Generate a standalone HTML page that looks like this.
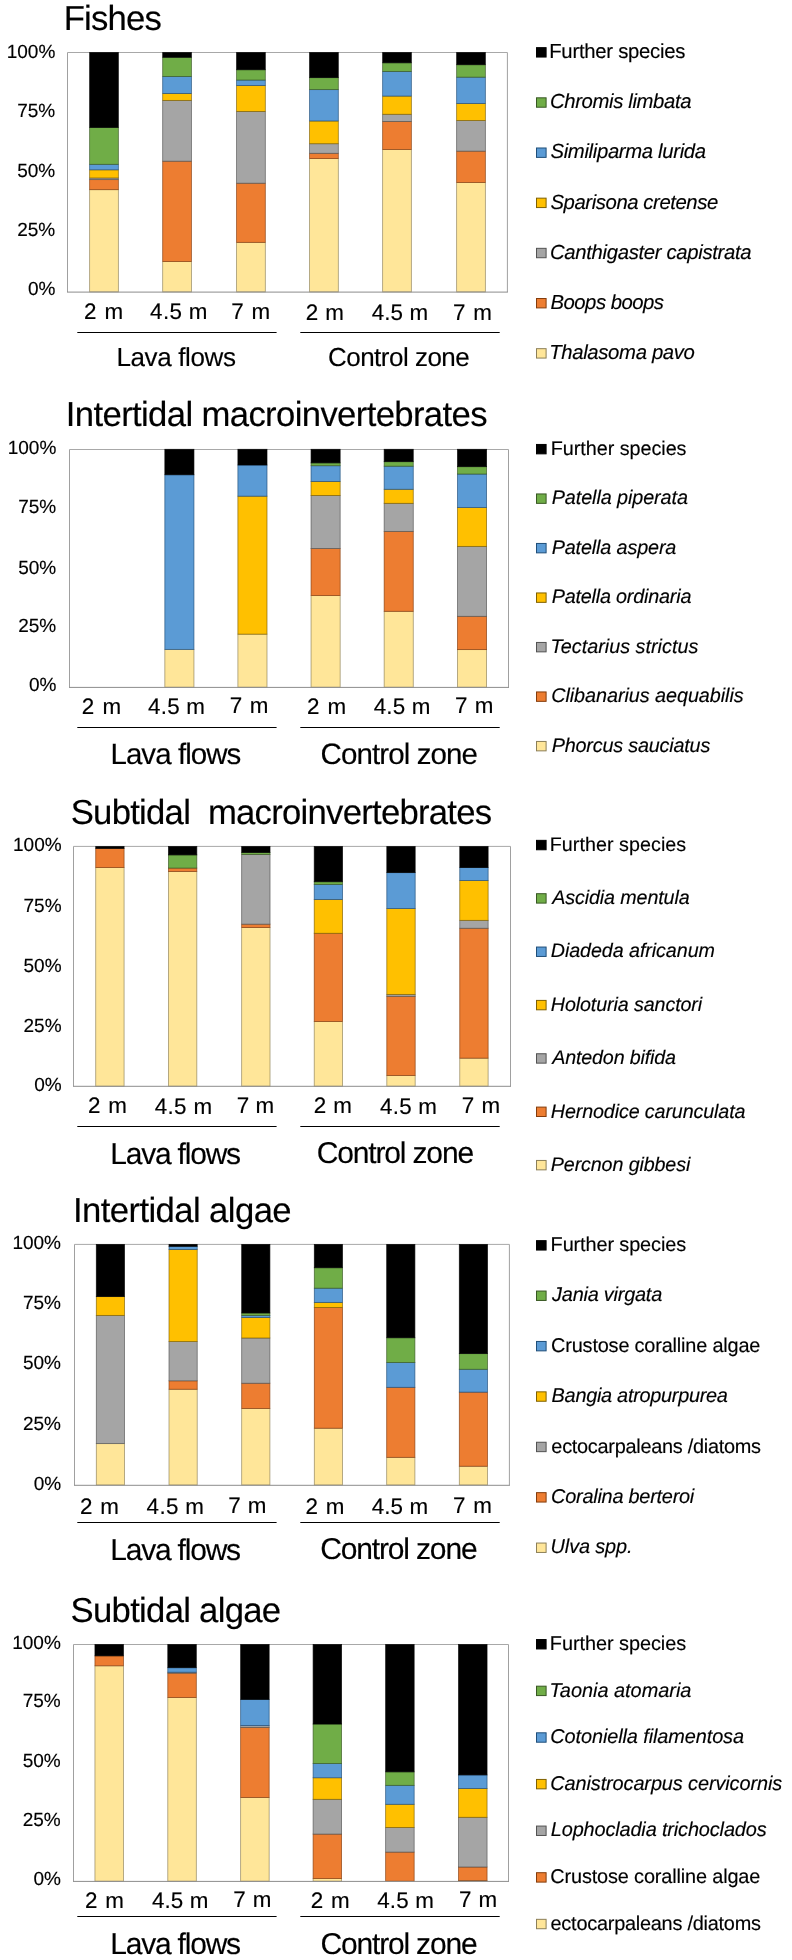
<!DOCTYPE html>
<html><head><meta charset="utf-8"><style>
html,body{margin:0;padding:0;background:#fff;}
svg{display:block;will-change:transform;}
text{font-family:"Liberation Sans", sans-serif; fill:#000; stroke:#000; stroke-width:0.15px; text-rendering:geometricPrecision;}
</style></head><body>
<svg width="792" height="1960" viewBox="0 0 792 1960">
<rect width="792" height="1960" fill="#fff"/>
<text x="63.65" y="29.90" font-size="34.7" textLength="98.16" lengthAdjust="spacing">Fishes</text>
<line x1="67.5" y1="52.5" x2="507.4" y2="52.5" stroke="#a8a8a8" stroke-width="1"/>
<line x1="67.5" y1="52.5" x2="67.5" y2="292.1" stroke="#a0a0a0" stroke-width="1"/>
<line x1="507.4" y1="52.5" x2="507.4" y2="292.1" stroke="#a0a0a0" stroke-width="1"/>
<rect x="89.65" y="189.68" width="28.70" height="102.22" fill="#FFE699" stroke="#8c7f58" stroke-opacity="0.8" stroke-width="0.8"/>
<rect x="89.65" y="179.62" width="28.70" height="10.05" fill="#ED7D31" stroke="#843C0C" stroke-opacity="0.8" stroke-width="0.8"/>
<rect x="89.65" y="177.95" width="28.70" height="1.68" fill="#A5A5A5" stroke="#525252" stroke-opacity="0.8" stroke-width="0.8"/>
<rect x="89.65" y="169.81" width="28.70" height="8.14" fill="#FFC000" stroke="#7F6000" stroke-opacity="0.8" stroke-width="0.8"/>
<rect x="89.65" y="164.30" width="28.70" height="5.51" fill="#5B9BD5" stroke="#1F4E79" stroke-opacity="0.8" stroke-width="0.8"/>
<rect x="89.65" y="127.43" width="28.70" height="36.87" fill="#70AD47" stroke="#385723" stroke-opacity="0.8" stroke-width="0.8"/>
<rect x="89.65" y="52.50" width="28.70" height="74.93" fill="#000000" stroke="#000000" stroke-opacity="0.8" stroke-width="0.8"/>
<rect x="162.70" y="261.50" width="28.70" height="30.40" fill="#FFE699" stroke="#8c7f58" stroke-opacity="0.8" stroke-width="0.8"/>
<rect x="162.70" y="161.19" width="28.70" height="100.31" fill="#ED7D31" stroke="#843C0C" stroke-opacity="0.8" stroke-width="0.8"/>
<rect x="162.70" y="100.38" width="28.70" height="60.81" fill="#A5A5A5" stroke="#525252" stroke-opacity="0.8" stroke-width="0.8"/>
<rect x="162.70" y="93.44" width="28.70" height="6.94" fill="#FFC000" stroke="#7F6000" stroke-opacity="0.8" stroke-width="0.8"/>
<rect x="162.70" y="76.44" width="28.70" height="17.00" fill="#5B9BD5" stroke="#1F4E79" stroke-opacity="0.8" stroke-width="0.8"/>
<rect x="162.70" y="57.29" width="28.70" height="19.15" fill="#70AD47" stroke="#385723" stroke-opacity="0.8" stroke-width="0.8"/>
<rect x="162.70" y="52.50" width="28.70" height="4.79" fill="#000000" stroke="#000000" stroke-opacity="0.8" stroke-width="0.8"/>
<rect x="236.60" y="242.34" width="28.70" height="49.56" fill="#FFE699" stroke="#8c7f58" stroke-opacity="0.8" stroke-width="0.8"/>
<rect x="236.60" y="183.21" width="28.70" height="59.13" fill="#ED7D31" stroke="#843C0C" stroke-opacity="0.8" stroke-width="0.8"/>
<rect x="236.60" y="111.39" width="28.70" height="71.82" fill="#A5A5A5" stroke="#525252" stroke-opacity="0.8" stroke-width="0.8"/>
<rect x="236.60" y="85.54" width="28.70" height="25.86" fill="#FFC000" stroke="#7F6000" stroke-opacity="0.8" stroke-width="0.8"/>
<rect x="236.60" y="80.03" width="28.70" height="5.51" fill="#5B9BD5" stroke="#1F4E79" stroke-opacity="0.8" stroke-width="0.8"/>
<rect x="236.60" y="69.74" width="28.70" height="10.29" fill="#70AD47" stroke="#385723" stroke-opacity="0.8" stroke-width="0.8"/>
<rect x="236.60" y="52.50" width="28.70" height="17.24" fill="#000000" stroke="#000000" stroke-opacity="0.8" stroke-width="0.8"/>
<rect x="309.60" y="158.55" width="28.70" height="133.35" fill="#FFE699" stroke="#8c7f58" stroke-opacity="0.8" stroke-width="0.8"/>
<rect x="309.60" y="153.29" width="28.70" height="5.27" fill="#ED7D31" stroke="#843C0C" stroke-opacity="0.8" stroke-width="0.8"/>
<rect x="309.60" y="143.71" width="28.70" height="9.58" fill="#A5A5A5" stroke="#525252" stroke-opacity="0.8" stroke-width="0.8"/>
<rect x="309.60" y="120.97" width="28.70" height="22.74" fill="#FFC000" stroke="#7F6000" stroke-opacity="0.8" stroke-width="0.8"/>
<rect x="309.60" y="89.61" width="28.70" height="31.36" fill="#5B9BD5" stroke="#1F4E79" stroke-opacity="0.8" stroke-width="0.8"/>
<rect x="309.60" y="77.64" width="28.70" height="11.97" fill="#70AD47" stroke="#385723" stroke-opacity="0.8" stroke-width="0.8"/>
<rect x="309.60" y="52.50" width="28.70" height="25.14" fill="#000000" stroke="#000000" stroke-opacity="0.8" stroke-width="0.8"/>
<rect x="382.65" y="149.46" width="28.70" height="142.44" fill="#FFE699" stroke="#8c7f58" stroke-opacity="0.8" stroke-width="0.8"/>
<rect x="382.65" y="121.45" width="28.70" height="28.01" fill="#ED7D31" stroke="#843C0C" stroke-opacity="0.8" stroke-width="0.8"/>
<rect x="382.65" y="114.27" width="28.70" height="7.18" fill="#A5A5A5" stroke="#525252" stroke-opacity="0.8" stroke-width="0.8"/>
<rect x="382.65" y="96.07" width="28.70" height="18.19" fill="#FFC000" stroke="#7F6000" stroke-opacity="0.8" stroke-width="0.8"/>
<rect x="382.65" y="71.41" width="28.70" height="24.66" fill="#5B9BD5" stroke="#1F4E79" stroke-opacity="0.8" stroke-width="0.8"/>
<rect x="382.65" y="62.79" width="28.70" height="8.62" fill="#70AD47" stroke="#385723" stroke-opacity="0.8" stroke-width="0.8"/>
<rect x="382.65" y="52.50" width="28.70" height="10.29" fill="#000000" stroke="#000000" stroke-opacity="0.8" stroke-width="0.8"/>
<rect x="456.65" y="182.49" width="28.70" height="109.41" fill="#FFE699" stroke="#8c7f58" stroke-opacity="0.8" stroke-width="0.8"/>
<rect x="456.65" y="151.13" width="28.70" height="31.36" fill="#ED7D31" stroke="#843C0C" stroke-opacity="0.8" stroke-width="0.8"/>
<rect x="456.65" y="120.49" width="28.70" height="30.64" fill="#A5A5A5" stroke="#525252" stroke-opacity="0.8" stroke-width="0.8"/>
<rect x="456.65" y="103.49" width="28.70" height="17.00" fill="#FFC000" stroke="#7F6000" stroke-opacity="0.8" stroke-width="0.8"/>
<rect x="456.65" y="77.16" width="28.70" height="26.33" fill="#5B9BD5" stroke="#1F4E79" stroke-opacity="0.8" stroke-width="0.8"/>
<rect x="456.65" y="64.71" width="28.70" height="12.45" fill="#70AD47" stroke="#385723" stroke-opacity="0.8" stroke-width="0.8"/>
<rect x="456.65" y="52.50" width="28.70" height="12.21" fill="#000000" stroke="#000000" stroke-opacity="0.8" stroke-width="0.8"/>
<line x1="67.0" y1="292.1" x2="507.9" y2="292.1" stroke="#8c8c8c" stroke-width="1"/>
<text x="6.70" y="57.90" font-size="19.0">100%</text>
<text x="17.20" y="117.00" font-size="19.0">75%</text>
<text x="17.20" y="176.90" font-size="19.0">50%</text>
<text x="17.20" y="236.10" font-size="19.0">25%</text>
<text x="27.95" y="295.40" font-size="19.0">0%</text>
<text x="84.10" y="319.00" font-size="22.4" textLength="39.09" lengthAdjust="spacing">2 m</text>
<text x="150.10" y="319.00" font-size="22.4" textLength="57.35" lengthAdjust="spacing">4.5 m</text>
<text x="231.20" y="319.00" font-size="22.4" textLength="38.89" lengthAdjust="spacing">7 m</text>
<text x="305.70" y="320.00" font-size="22.4" textLength="38.19" lengthAdjust="spacing">2 m</text>
<text x="371.70" y="320.00" font-size="22.4" textLength="56.45" lengthAdjust="spacing">4.5 m</text>
<text x="453.10" y="320.00" font-size="22.4" textLength="38.89" lengthAdjust="spacing">7 m</text>
<line x1="77.3" y1="332.5" x2="276.6" y2="332.5" stroke="#000" stroke-width="1"/>
<line x1="300.3" y1="332.5" x2="499.7" y2="332.5" stroke="#000" stroke-width="1"/>
<text x="116.40" y="365.90" font-size="26.0" textLength="119.49" lengthAdjust="spacing">Lava flows</text>
<text x="327.95" y="365.90" font-size="26.0" textLength="141.83" lengthAdjust="spacing">Control zone</text>
<rect x="536.5" y="47.65" width="9.6" height="9.4" fill="#000000" stroke="#000000" stroke-width="1"/>
<text x="549.25" y="58.05" font-size="20.3" textLength="136.10" lengthAdjust="spacing">Further species</text>
<rect x="536.5" y="97.82" width="9.6" height="9.4" fill="#70AD47" stroke="#385723" stroke-width="1"/>
<text x="550.00" y="108.22" font-size="20.3" font-style="italic" textLength="141.49" lengthAdjust="spacing">Chromis limbata</text>
<rect x="536.5" y="147.99" width="9.6" height="9.4" fill="#5B9BD5" stroke="#1F4E79" stroke-width="1"/>
<text x="550.50" y="158.39" font-size="20.3" font-style="italic" textLength="155.57" lengthAdjust="spacing">Similiparma lurida</text>
<rect x="536.5" y="198.16" width="9.6" height="9.4" fill="#FFC000" stroke="#7F6000" stroke-width="1"/>
<text x="550.50" y="208.56" font-size="20.3" font-style="italic" textLength="167.72" lengthAdjust="spacing">Sparisona cretense</text>
<rect x="536.5" y="248.33" width="9.6" height="9.4" fill="#A5A5A5" stroke="#525252" stroke-width="1"/>
<text x="550.00" y="258.73" font-size="20.3" font-style="italic" textLength="201.53" lengthAdjust="spacing">Canthigaster capistrata</text>
<rect x="536.5" y="298.50" width="9.6" height="9.4" fill="#ED7D31" stroke="#843C0C" stroke-width="1"/>
<text x="550.50" y="308.90" font-size="20.3" font-style="italic" textLength="113.46" lengthAdjust="spacing">Boops boops</text>
<rect x="536.5" y="348.67" width="9.6" height="9.4" fill="#FFE699" stroke="#8c7f58" stroke-width="1"/>
<text x="549.25" y="359.07" font-size="20.3" font-style="italic" textLength="145.61" lengthAdjust="spacing">Thalasoma pavo</text>
<text x="65.85" y="426.00" font-size="34.7" textLength="421.65" lengthAdjust="spacing">Intertidal macroinvertebrates</text>
<line x1="69.5" y1="449.5" x2="508.5" y2="449.5" stroke="#a8a8a8" stroke-width="1"/>
<line x1="69.5" y1="449.5" x2="69.5" y2="687.4" stroke="#a0a0a0" stroke-width="1"/>
<line x1="508.5" y1="449.5" x2="508.5" y2="687.4" stroke="#a0a0a0" stroke-width="1"/>
<rect x="164.85" y="649.37" width="29.10" height="37.83" fill="#FFE699" stroke="#8c7f58" stroke-opacity="0.8" stroke-width="0.8"/>
<rect x="164.85" y="474.76" width="29.10" height="174.62" fill="#5B9BD5" stroke="#1F4E79" stroke-opacity="0.8" stroke-width="0.8"/>
<rect x="164.85" y="449.30" width="29.10" height="25.46" fill="#000000" stroke="#000000" stroke-opacity="0.8" stroke-width="0.8"/>
<rect x="237.90" y="634.15" width="29.10" height="53.05" fill="#FFE699" stroke="#8c7f58" stroke-opacity="0.8" stroke-width="0.8"/>
<rect x="237.90" y="496.17" width="29.10" height="137.98" fill="#FFC000" stroke="#7F6000" stroke-opacity="0.8" stroke-width="0.8"/>
<rect x="237.90" y="465.00" width="29.10" height="31.16" fill="#5B9BD5" stroke="#1F4E79" stroke-opacity="0.8" stroke-width="0.8"/>
<rect x="237.90" y="449.30" width="29.10" height="15.70" fill="#000000" stroke="#000000" stroke-opacity="0.8" stroke-width="0.8"/>
<rect x="311.05" y="595.61" width="29.10" height="91.59" fill="#FFE699" stroke="#8c7f58" stroke-opacity="0.8" stroke-width="0.8"/>
<rect x="311.05" y="548.50" width="29.10" height="47.10" fill="#ED7D31" stroke="#843C0C" stroke-opacity="0.8" stroke-width="0.8"/>
<rect x="311.05" y="495.45" width="29.10" height="53.05" fill="#A5A5A5" stroke="#525252" stroke-opacity="0.8" stroke-width="0.8"/>
<rect x="311.05" y="481.42" width="29.10" height="14.04" fill="#FFC000" stroke="#7F6000" stroke-opacity="0.8" stroke-width="0.8"/>
<rect x="311.05" y="465.72" width="29.10" height="15.70" fill="#5B9BD5" stroke="#1F4E79" stroke-opacity="0.8" stroke-width="0.8"/>
<rect x="311.05" y="462.86" width="29.10" height="2.85" fill="#70AD47" stroke="#385723" stroke-opacity="0.8" stroke-width="0.8"/>
<rect x="311.05" y="449.30" width="29.10" height="13.56" fill="#000000" stroke="#000000" stroke-opacity="0.8" stroke-width="0.8"/>
<rect x="384.15" y="611.31" width="29.10" height="75.89" fill="#FFE699" stroke="#8c7f58" stroke-opacity="0.8" stroke-width="0.8"/>
<rect x="384.15" y="531.38" width="29.10" height="79.93" fill="#ED7D31" stroke="#843C0C" stroke-opacity="0.8" stroke-width="0.8"/>
<rect x="384.15" y="503.30" width="29.10" height="28.07" fill="#A5A5A5" stroke="#525252" stroke-opacity="0.8" stroke-width="0.8"/>
<rect x="384.15" y="489.27" width="29.10" height="14.04" fill="#FFC000" stroke="#7F6000" stroke-opacity="0.8" stroke-width="0.8"/>
<rect x="384.15" y="466.19" width="29.10" height="23.08" fill="#5B9BD5" stroke="#1F4E79" stroke-opacity="0.8" stroke-width="0.8"/>
<rect x="384.15" y="461.67" width="29.10" height="4.52" fill="#70AD47" stroke="#385723" stroke-opacity="0.8" stroke-width="0.8"/>
<rect x="384.15" y="449.30" width="29.10" height="12.37" fill="#000000" stroke="#000000" stroke-opacity="0.8" stroke-width="0.8"/>
<rect x="457.50" y="649.61" width="29.10" height="37.59" fill="#FFE699" stroke="#8c7f58" stroke-opacity="0.8" stroke-width="0.8"/>
<rect x="457.50" y="616.31" width="29.10" height="33.31" fill="#ED7D31" stroke="#843C0C" stroke-opacity="0.8" stroke-width="0.8"/>
<rect x="457.50" y="546.36" width="29.10" height="69.94" fill="#A5A5A5" stroke="#525252" stroke-opacity="0.8" stroke-width="0.8"/>
<rect x="457.50" y="507.59" width="29.10" height="38.78" fill="#FFC000" stroke="#7F6000" stroke-opacity="0.8" stroke-width="0.8"/>
<rect x="457.50" y="474.04" width="29.10" height="33.54" fill="#5B9BD5" stroke="#1F4E79" stroke-opacity="0.8" stroke-width="0.8"/>
<rect x="457.50" y="466.67" width="29.10" height="7.37" fill="#70AD47" stroke="#385723" stroke-opacity="0.8" stroke-width="0.8"/>
<rect x="457.50" y="449.30" width="29.10" height="17.37" fill="#000000" stroke="#000000" stroke-opacity="0.8" stroke-width="0.8"/>
<line x1="69.0" y1="687.4" x2="509.0" y2="687.4" stroke="#8c8c8c" stroke-width="1"/>
<text x="7.70" y="453.90" font-size="19.0">100%</text>
<text x="18.20" y="513.00" font-size="19.0">75%</text>
<text x="18.20" y="574.00" font-size="19.0">50%</text>
<text x="18.20" y="632.10" font-size="19.0">25%</text>
<text x="28.95" y="691.40" font-size="19.0">0%</text>
<text x="81.70" y="713.60" font-size="22.4" textLength="39.39" lengthAdjust="spacing">2 m</text>
<text x="148.10" y="713.60" font-size="22.4" textLength="56.75" lengthAdjust="spacing">4.5 m</text>
<text x="229.80" y="712.70" font-size="22.4" textLength="38.59" lengthAdjust="spacing">7 m</text>
<text x="307.00" y="713.60" font-size="22.4" textLength="39.19" lengthAdjust="spacing">2 m</text>
<text x="373.70" y="713.60" font-size="22.4" textLength="56.75" lengthAdjust="spacing">4.5 m</text>
<text x="455.10" y="712.70" font-size="22.4" textLength="38.39" lengthAdjust="spacing">7 m</text>
<line x1="77.3" y1="727.5" x2="276.6" y2="727.5" stroke="#000" stroke-width="1"/>
<line x1="300.3" y1="727.5" x2="499.7" y2="727.5" stroke="#000" stroke-width="1"/>
<text x="110.40" y="763.80" font-size="29.5" textLength="130.97" lengthAdjust="spacing">Lava flows</text>
<text x="320.50" y="763.50" font-size="29.5" textLength="157.51" lengthAdjust="spacing">Control zone</text>
<rect x="536.5" y="444.45" width="9.6" height="9.4" fill="#000000" stroke="#000000" stroke-width="1"/>
<text x="550.70" y="454.85" font-size="19.8" textLength="135.81" lengthAdjust="spacing">Further species</text>
<rect x="536.5" y="493.95" width="9.6" height="9.4" fill="#70AD47" stroke="#385723" stroke-width="1"/>
<text x="551.70" y="504.35" font-size="19.8" font-style="italic" textLength="136.25" lengthAdjust="spacing">Patella piperata</text>
<rect x="536.5" y="543.45" width="9.6" height="9.4" fill="#5B9BD5" stroke="#1F4E79" stroke-width="1"/>
<text x="551.70" y="553.85" font-size="19.8" font-style="italic" textLength="124.67" lengthAdjust="spacing">Patella aspera</text>
<rect x="536.5" y="592.95" width="9.6" height="9.4" fill="#FFC000" stroke="#7F6000" stroke-width="1"/>
<text x="551.70" y="603.35" font-size="19.8" font-style="italic" textLength="139.73" lengthAdjust="spacing">Patella ordinaria</text>
<rect x="536.5" y="642.45" width="9.6" height="9.4" fill="#A5A5A5" stroke="#525252" stroke-width="1"/>
<text x="550.45" y="652.85" font-size="19.8" font-style="italic" textLength="147.90" lengthAdjust="spacing">Tectarius strictus</text>
<rect x="536.5" y="691.95" width="9.6" height="9.4" fill="#ED7D31" stroke="#843C0C" stroke-width="1"/>
<text x="551.20" y="702.35" font-size="19.8" font-style="italic" textLength="192.48" lengthAdjust="spacing">Clibanarius aequabilis</text>
<rect x="536.5" y="741.45" width="9.6" height="9.4" fill="#FFE699" stroke="#8c7f58" stroke-width="1"/>
<text x="551.70" y="751.85" font-size="19.8" font-style="italic" textLength="158.58" lengthAdjust="spacing">Phorcus sauciatus</text>
<text x="70.70" y="823.80" font-size="34.7" textLength="421.44" lengthAdjust="spacing">Subtidal  macroinvertebrates</text>
<line x1="73.5" y1="846.4" x2="510.5" y2="846.4" stroke="#a8a8a8" stroke-width="1"/>
<line x1="73.5" y1="846.4" x2="73.5" y2="1086.3" stroke="#a0a0a0" stroke-width="1"/>
<line x1="510.5" y1="846.4" x2="510.5" y2="1086.3" stroke="#a0a0a0" stroke-width="1"/>
<rect x="95.73" y="867.59" width="28.35" height="218.61" fill="#FFE699" stroke="#8c7f58" stroke-opacity="0.8" stroke-width="0.8"/>
<rect x="95.73" y="848.42" width="28.35" height="19.18" fill="#ED7D31" stroke="#843C0C" stroke-opacity="0.8" stroke-width="0.8"/>
<rect x="95.73" y="846.50" width="28.35" height="1.92" fill="#000000" stroke="#000000" stroke-opacity="0.8" stroke-width="0.8"/>
<rect x="168.47" y="871.43" width="28.35" height="214.77" fill="#FFE699" stroke="#8c7f58" stroke-opacity="0.8" stroke-width="0.8"/>
<rect x="168.47" y="868.07" width="28.35" height="3.36" fill="#ED7D31" stroke="#843C0C" stroke-opacity="0.8" stroke-width="0.8"/>
<rect x="168.47" y="854.89" width="28.35" height="13.18" fill="#70AD47" stroke="#385723" stroke-opacity="0.8" stroke-width="0.8"/>
<rect x="168.47" y="846.50" width="28.35" height="8.39" fill="#000000" stroke="#000000" stroke-opacity="0.8" stroke-width="0.8"/>
<rect x="241.67" y="927.52" width="28.35" height="158.68" fill="#FFE699" stroke="#8c7f58" stroke-opacity="0.8" stroke-width="0.8"/>
<rect x="241.67" y="924.16" width="28.35" height="3.36" fill="#ED7D31" stroke="#843C0C" stroke-opacity="0.8" stroke-width="0.8"/>
<rect x="241.67" y="854.41" width="28.35" height="69.75" fill="#A5A5A5" stroke="#525252" stroke-opacity="0.8" stroke-width="0.8"/>
<rect x="241.67" y="852.49" width="28.35" height="1.92" fill="#70AD47" stroke="#385723" stroke-opacity="0.8" stroke-width="0.8"/>
<rect x="241.67" y="846.50" width="28.35" height="5.99" fill="#000000" stroke="#000000" stroke-opacity="0.8" stroke-width="0.8"/>
<rect x="314.22" y="1021.48" width="28.35" height="64.72" fill="#FFE699" stroke="#8c7f58" stroke-opacity="0.8" stroke-width="0.8"/>
<rect x="314.22" y="933.27" width="28.35" height="88.21" fill="#ED7D31" stroke="#843C0C" stroke-opacity="0.8" stroke-width="0.8"/>
<rect x="314.22" y="899.47" width="28.35" height="33.80" fill="#FFC000" stroke="#7F6000" stroke-opacity="0.8" stroke-width="0.8"/>
<rect x="314.22" y="884.37" width="28.35" height="15.10" fill="#5B9BD5" stroke="#1F4E79" stroke-opacity="0.8" stroke-width="0.8"/>
<rect x="314.22" y="881.74" width="28.35" height="2.64" fill="#70AD47" stroke="#385723" stroke-opacity="0.8" stroke-width="0.8"/>
<rect x="314.22" y="846.50" width="28.35" height="35.24" fill="#000000" stroke="#000000" stroke-opacity="0.8" stroke-width="0.8"/>
<rect x="386.82" y="1075.41" width="28.35" height="10.79" fill="#FFE699" stroke="#8c7f58" stroke-opacity="0.8" stroke-width="0.8"/>
<rect x="386.82" y="996.31" width="28.35" height="79.10" fill="#ED7D31" stroke="#843C0C" stroke-opacity="0.8" stroke-width="0.8"/>
<rect x="386.82" y="994.39" width="28.35" height="1.92" fill="#A5A5A5" stroke="#525252" stroke-opacity="0.8" stroke-width="0.8"/>
<rect x="386.82" y="908.58" width="28.35" height="85.81" fill="#FFC000" stroke="#7F6000" stroke-opacity="0.8" stroke-width="0.8"/>
<rect x="386.82" y="872.63" width="28.35" height="35.96" fill="#5B9BD5" stroke="#1F4E79" stroke-opacity="0.8" stroke-width="0.8"/>
<rect x="386.82" y="846.50" width="28.35" height="26.13" fill="#000000" stroke="#000000" stroke-opacity="0.8" stroke-width="0.8"/>
<rect x="459.77" y="1058.16" width="28.35" height="28.04" fill="#FFE699" stroke="#8c7f58" stroke-opacity="0.8" stroke-width="0.8"/>
<rect x="459.77" y="928.24" width="28.35" height="129.92" fill="#ED7D31" stroke="#843C0C" stroke-opacity="0.8" stroke-width="0.8"/>
<rect x="459.77" y="920.33" width="28.35" height="7.91" fill="#A5A5A5" stroke="#525252" stroke-opacity="0.8" stroke-width="0.8"/>
<rect x="459.77" y="880.54" width="28.35" height="39.79" fill="#FFC000" stroke="#7F6000" stroke-opacity="0.8" stroke-width="0.8"/>
<rect x="459.77" y="867.59" width="28.35" height="12.94" fill="#5B9BD5" stroke="#1F4E79" stroke-opacity="0.8" stroke-width="0.8"/>
<rect x="459.77" y="846.50" width="28.35" height="21.09" fill="#000000" stroke="#000000" stroke-opacity="0.8" stroke-width="0.8"/>
<line x1="73.0" y1="1086.3" x2="511.0" y2="1086.3" stroke="#8c8c8c" stroke-width="1"/>
<text x="13.00" y="851.20" font-size="19.0">100%</text>
<text x="23.50" y="912.30" font-size="19.0">75%</text>
<text x="23.50" y="972.00" font-size="19.0">50%</text>
<text x="23.50" y="1031.70" font-size="19.0">25%</text>
<text x="34.25" y="1091.20" font-size="19.0">0%</text>
<text x="88.00" y="1112.70" font-size="22.4" textLength="38.99" lengthAdjust="spacing">2 m</text>
<text x="154.80" y="1113.60" font-size="22.4" textLength="57.25" lengthAdjust="spacing">4.5 m</text>
<text x="236.80" y="1112.50" font-size="22.4" textLength="37.39" lengthAdjust="spacing">7 m</text>
<text x="313.70" y="1113.00" font-size="22.4" textLength="38.29" lengthAdjust="spacing">2 m</text>
<text x="380.10" y="1113.60" font-size="22.4" textLength="56.75" lengthAdjust="spacing">4.5 m</text>
<text x="461.80" y="1112.50" font-size="22.4" textLength="38.29" lengthAdjust="spacing">7 m</text>
<line x1="77.3" y1="1126.5" x2="276.6" y2="1126.5" stroke="#000" stroke-width="1"/>
<line x1="300.3" y1="1126.5" x2="499.7" y2="1126.5" stroke="#000" stroke-width="1"/>
<text x="110.30" y="1163.85" font-size="30.0" textLength="130.78" lengthAdjust="spacing">Lava flows</text>
<text x="316.80" y="1162.60" font-size="30.0" textLength="157.29" lengthAdjust="spacing">Control zone</text>
<rect x="536.5" y="840.35" width="9.6" height="9.4" fill="#000000" stroke="#000000" stroke-width="1"/>
<text x="549.80" y="850.75" font-size="19.7" textLength="136.33" lengthAdjust="spacing">Further species</text>
<rect x="536.5" y="893.70" width="9.6" height="9.4" fill="#70AD47" stroke="#385723" stroke-width="1"/>
<text x="552.30" y="904.10" font-size="19.7" font-style="italic" textLength="137.34" lengthAdjust="spacing">Ascidia mentula</text>
<rect x="536.5" y="947.05" width="9.6" height="9.4" fill="#5B9BD5" stroke="#1F4E79" stroke-width="1"/>
<text x="550.80" y="957.45" font-size="19.7" font-style="italic" textLength="164.11" lengthAdjust="spacing">Diadeda africanum</text>
<rect x="536.5" y="1000.40" width="9.6" height="9.4" fill="#FFC000" stroke="#7F6000" stroke-width="1"/>
<text x="550.80" y="1010.80" font-size="19.7" font-style="italic" textLength="151.37" lengthAdjust="spacing">Holoturia sanctori</text>
<rect x="536.5" y="1053.75" width="9.6" height="9.4" fill="#A5A5A5" stroke="#525252" stroke-width="1"/>
<text x="552.30" y="1064.15" font-size="19.7" font-style="italic" textLength="123.58" lengthAdjust="spacing">Antedon bifida</text>
<rect x="536.5" y="1107.10" width="9.6" height="9.4" fill="#ED7D31" stroke="#843C0C" stroke-width="1"/>
<text x="550.80" y="1117.50" font-size="19.7" font-style="italic" textLength="194.70" lengthAdjust="spacing">Hernodice carunculata</text>
<rect x="536.5" y="1160.45" width="9.6" height="9.4" fill="#FFE699" stroke="#8c7f58" stroke-width="1"/>
<text x="550.80" y="1170.85" font-size="19.7" font-style="italic" textLength="139.48" lengthAdjust="spacing">Percnon gibbesi</text>
<text x="72.95" y="1222.00" font-size="34.7" textLength="218.67" lengthAdjust="spacing">Intertidal algae</text>
<line x1="74.5" y1="1244.4" x2="509.4" y2="1244.4" stroke="#a8a8a8" stroke-width="1"/>
<line x1="74.5" y1="1244.4" x2="74.5" y2="1485.3" stroke="#a0a0a0" stroke-width="1"/>
<line x1="509.4" y1="1244.4" x2="509.4" y2="1485.3" stroke="#a0a0a0" stroke-width="1"/>
<rect x="96.30" y="1443.62" width="28.20" height="41.38" fill="#FFE699" stroke="#8c7f58" stroke-opacity="0.8" stroke-width="0.8"/>
<rect x="96.30" y="1315.38" width="28.20" height="128.24" fill="#A5A5A5" stroke="#525252" stroke-opacity="0.8" stroke-width="0.8"/>
<rect x="96.30" y="1296.61" width="28.20" height="18.77" fill="#FFC000" stroke="#7F6000" stroke-opacity="0.8" stroke-width="0.8"/>
<rect x="96.30" y="1244.40" width="28.20" height="52.21" fill="#000000" stroke="#000000" stroke-opacity="0.8" stroke-width="0.8"/>
<rect x="169.00" y="1389.24" width="28.20" height="95.76" fill="#FFE699" stroke="#8c7f58" stroke-opacity="0.8" stroke-width="0.8"/>
<rect x="169.00" y="1380.82" width="28.20" height="8.42" fill="#ED7D31" stroke="#843C0C" stroke-opacity="0.8" stroke-width="0.8"/>
<rect x="169.00" y="1341.60" width="28.20" height="39.22" fill="#A5A5A5" stroke="#525252" stroke-opacity="0.8" stroke-width="0.8"/>
<rect x="169.00" y="1249.45" width="28.20" height="92.15" fill="#FFC000" stroke="#7F6000" stroke-opacity="0.8" stroke-width="0.8"/>
<rect x="169.00" y="1246.32" width="28.20" height="3.13" fill="#5B9BD5" stroke="#1F4E79" stroke-opacity="0.8" stroke-width="0.8"/>
<rect x="169.00" y="1244.40" width="28.20" height="1.92" fill="#000000" stroke="#000000" stroke-opacity="0.8" stroke-width="0.8"/>
<rect x="241.70" y="1408.49" width="28.20" height="76.51" fill="#FFE699" stroke="#8c7f58" stroke-opacity="0.8" stroke-width="0.8"/>
<rect x="241.70" y="1383.23" width="28.20" height="25.26" fill="#ED7D31" stroke="#843C0C" stroke-opacity="0.8" stroke-width="0.8"/>
<rect x="241.70" y="1337.99" width="28.20" height="45.23" fill="#A5A5A5" stroke="#525252" stroke-opacity="0.8" stroke-width="0.8"/>
<rect x="241.70" y="1317.54" width="28.20" height="20.45" fill="#FFC000" stroke="#7F6000" stroke-opacity="0.8" stroke-width="0.8"/>
<rect x="241.70" y="1315.38" width="28.20" height="2.17" fill="#5B9BD5" stroke="#1F4E79" stroke-opacity="0.8" stroke-width="0.8"/>
<rect x="241.70" y="1312.97" width="28.20" height="2.41" fill="#70AD47" stroke="#385723" stroke-opacity="0.8" stroke-width="0.8"/>
<rect x="241.70" y="1244.40" width="28.20" height="68.57" fill="#000000" stroke="#000000" stroke-opacity="0.8" stroke-width="0.8"/>
<rect x="314.30" y="1428.22" width="28.20" height="56.78" fill="#FFE699" stroke="#8c7f58" stroke-opacity="0.8" stroke-width="0.8"/>
<rect x="314.30" y="1307.44" width="28.20" height="120.78" fill="#ED7D31" stroke="#843C0C" stroke-opacity="0.8" stroke-width="0.8"/>
<rect x="314.30" y="1302.38" width="28.20" height="5.05" fill="#FFC000" stroke="#7F6000" stroke-opacity="0.8" stroke-width="0.8"/>
<rect x="314.30" y="1288.19" width="28.20" height="14.20" fill="#5B9BD5" stroke="#1F4E79" stroke-opacity="0.8" stroke-width="0.8"/>
<rect x="314.30" y="1267.74" width="28.20" height="20.45" fill="#70AD47" stroke="#385723" stroke-opacity="0.8" stroke-width="0.8"/>
<rect x="314.30" y="1244.40" width="28.20" height="23.34" fill="#000000" stroke="#000000" stroke-opacity="0.8" stroke-width="0.8"/>
<rect x="386.70" y="1457.33" width="28.20" height="27.67" fill="#FFE699" stroke="#8c7f58" stroke-opacity="0.8" stroke-width="0.8"/>
<rect x="386.70" y="1387.32" width="28.20" height="70.01" fill="#ED7D31" stroke="#843C0C" stroke-opacity="0.8" stroke-width="0.8"/>
<rect x="386.70" y="1362.53" width="28.20" height="24.78" fill="#5B9BD5" stroke="#1F4E79" stroke-opacity="0.8" stroke-width="0.8"/>
<rect x="386.70" y="1337.75" width="28.20" height="24.78" fill="#70AD47" stroke="#385723" stroke-opacity="0.8" stroke-width="0.8"/>
<rect x="386.70" y="1244.40" width="28.20" height="93.35" fill="#000000" stroke="#000000" stroke-opacity="0.8" stroke-width="0.8"/>
<rect x="459.30" y="1466.23" width="28.20" height="18.77" fill="#FFE699" stroke="#8c7f58" stroke-opacity="0.8" stroke-width="0.8"/>
<rect x="459.30" y="1392.13" width="28.20" height="74.10" fill="#ED7D31" stroke="#843C0C" stroke-opacity="0.8" stroke-width="0.8"/>
<rect x="459.30" y="1369.27" width="28.20" height="22.86" fill="#5B9BD5" stroke="#1F4E79" stroke-opacity="0.8" stroke-width="0.8"/>
<rect x="459.30" y="1353.63" width="28.20" height="15.64" fill="#70AD47" stroke="#385723" stroke-opacity="0.8" stroke-width="0.8"/>
<rect x="459.30" y="1244.40" width="28.20" height="109.23" fill="#000000" stroke="#000000" stroke-opacity="0.8" stroke-width="0.8"/>
<line x1="74.0" y1="1485.3" x2="509.9" y2="1485.3" stroke="#8c8c8c" stroke-width="1"/>
<text x="12.40" y="1249.00" font-size="19.0">100%</text>
<text x="22.90" y="1309.00" font-size="19.0">75%</text>
<text x="22.90" y="1369.00" font-size="19.0">50%</text>
<text x="22.90" y="1430.00" font-size="19.0">25%</text>
<text x="33.65" y="1490.00" font-size="19.0">0%</text>
<text x="80.10" y="1513.90" font-size="22.4" textLength="38.69" lengthAdjust="spacing">2 m</text>
<text x="146.60" y="1513.90" font-size="22.4" textLength="57.35" lengthAdjust="spacing">4.5 m</text>
<text x="228.30" y="1513.40" font-size="22.4" textLength="38.09" lengthAdjust="spacing">7 m</text>
<text x="305.60" y="1513.90" font-size="22.4" textLength="38.89" lengthAdjust="spacing">2 m</text>
<text x="371.70" y="1513.90" font-size="22.4" textLength="56.45" lengthAdjust="spacing">4.5 m</text>
<text x="453.10" y="1513.40" font-size="22.4" textLength="38.89" lengthAdjust="spacing">7 m</text>
<line x1="77.3" y1="1522.5" x2="276.6" y2="1522.5" stroke="#000" stroke-width="1"/>
<line x1="300.3" y1="1522.5" x2="499.7" y2="1522.5" stroke="#000" stroke-width="1"/>
<text x="110.30" y="1559.85" font-size="30.0" textLength="130.78" lengthAdjust="spacing">Lava flows</text>
<text x="320.30" y="1558.80" font-size="30.0" textLength="157.29" lengthAdjust="spacing">Control zone</text>
<rect x="536.5" y="1240.65" width="9.6" height="9.4" fill="#000000" stroke="#000000" stroke-width="1"/>
<text x="550.60" y="1251.05" font-size="19.9" textLength="135.51" lengthAdjust="spacing">Further species</text>
<rect x="536.5" y="1291.05" width="9.6" height="9.4" fill="#70AD47" stroke="#385723" stroke-width="1"/>
<text x="552.10" y="1301.45" font-size="19.9" font-style="italic" textLength="110.13" lengthAdjust="spacing">Jania virgata</text>
<rect x="536.5" y="1341.45" width="9.6" height="9.4" fill="#5B9BD5" stroke="#1F4E79" stroke-width="1"/>
<text x="551.10" y="1351.85" font-size="19.9" textLength="209.23" lengthAdjust="spacing">Crustose coralline algae</text>
<rect x="536.5" y="1391.85" width="9.6" height="9.4" fill="#FFC000" stroke="#7F6000" stroke-width="1"/>
<text x="551.60" y="1402.25" font-size="19.9" font-style="italic" textLength="176.33" lengthAdjust="spacing">Bangia atropurpurea</text>
<rect x="536.5" y="1442.25" width="9.6" height="9.4" fill="#A5A5A5" stroke="#525252" stroke-width="1"/>
<text x="551.35" y="1452.65" font-size="19.9" textLength="209.64" lengthAdjust="spacing">ectocarpaleans /diatoms</text>
<rect x="536.5" y="1492.65" width="9.6" height="9.4" fill="#ED7D31" stroke="#843C0C" stroke-width="1"/>
<text x="551.10" y="1503.05" font-size="19.9" font-style="italic" textLength="143.16" lengthAdjust="spacing">Coralina berteroi</text>
<rect x="536.5" y="1543.05" width="9.6" height="9.4" fill="#FFE699" stroke="#8c7f58" stroke-width="1"/>
<text x="550.60" y="1553.45" font-size="19.9" font-style="italic" textLength="81.88" lengthAdjust="spacing">Ulva spp.</text>
<text x="70.60" y="1621.80" font-size="34.7" textLength="210.53" lengthAdjust="spacing">Subtidal algae</text>
<line x1="73.5" y1="1644.5" x2="508.5" y2="1644.5" stroke="#a8a8a8" stroke-width="1"/>
<line x1="73.5" y1="1644.5" x2="73.5" y2="1881.4" stroke="#a0a0a0" stroke-width="1"/>
<line x1="508.5" y1="1644.5" x2="508.5" y2="1881.4" stroke="#a0a0a0" stroke-width="1"/>
<rect x="94.95" y="1665.80" width="28.50" height="215.40" fill="#FFE699" stroke="#8c7f58" stroke-opacity="0.8" stroke-width="0.8"/>
<rect x="94.95" y="1655.86" width="28.50" height="9.94" fill="#ED7D31" stroke="#843C0C" stroke-opacity="0.8" stroke-width="0.8"/>
<rect x="94.95" y="1644.50" width="28.50" height="11.36" fill="#000000" stroke="#000000" stroke-opacity="0.8" stroke-width="0.8"/>
<rect x="167.80" y="1697.52" width="28.50" height="183.68" fill="#FFE699" stroke="#8c7f58" stroke-opacity="0.8" stroke-width="0.8"/>
<rect x="167.80" y="1673.14" width="28.50" height="24.38" fill="#ED7D31" stroke="#843C0C" stroke-opacity="0.8" stroke-width="0.8"/>
<rect x="167.80" y="1672.19" width="28.50" height="0.95" fill="#A5A5A5" stroke="#525252" stroke-opacity="0.8" stroke-width="0.8"/>
<rect x="167.80" y="1667.70" width="28.50" height="4.50" fill="#5B9BD5" stroke="#1F4E79" stroke-opacity="0.8" stroke-width="0.8"/>
<rect x="167.80" y="1644.50" width="28.50" height="23.20" fill="#000000" stroke="#000000" stroke-opacity="0.8" stroke-width="0.8"/>
<rect x="240.65" y="1797.41" width="28.50" height="83.79" fill="#FFE699" stroke="#8c7f58" stroke-opacity="0.8" stroke-width="0.8"/>
<rect x="240.65" y="1727.35" width="28.50" height="70.06" fill="#ED7D31" stroke="#843C0C" stroke-opacity="0.8" stroke-width="0.8"/>
<rect x="240.65" y="1725.45" width="28.50" height="1.89" fill="#A5A5A5" stroke="#525252" stroke-opacity="0.8" stroke-width="0.8"/>
<rect x="240.65" y="1699.41" width="28.50" height="26.04" fill="#5B9BD5" stroke="#1F4E79" stroke-opacity="0.8" stroke-width="0.8"/>
<rect x="240.65" y="1644.50" width="28.50" height="54.91" fill="#000000" stroke="#000000" stroke-opacity="0.8" stroke-width="0.8"/>
<rect x="313.10" y="1878.60" width="28.50" height="2.60" fill="#FFE699" stroke="#8c7f58" stroke-opacity="0.8" stroke-width="0.8"/>
<rect x="313.10" y="1834.10" width="28.50" height="44.50" fill="#ED7D31" stroke="#843C0C" stroke-opacity="0.8" stroke-width="0.8"/>
<rect x="313.10" y="1799.30" width="28.50" height="34.79" fill="#A5A5A5" stroke="#525252" stroke-opacity="0.8" stroke-width="0.8"/>
<rect x="313.10" y="1777.76" width="28.50" height="21.54" fill="#FFC000" stroke="#7F6000" stroke-opacity="0.8" stroke-width="0.8"/>
<rect x="313.10" y="1763.56" width="28.50" height="14.20" fill="#5B9BD5" stroke="#1F4E79" stroke-opacity="0.8" stroke-width="0.8"/>
<rect x="313.10" y="1724.03" width="28.50" height="39.53" fill="#70AD47" stroke="#385723" stroke-opacity="0.8" stroke-width="0.8"/>
<rect x="313.10" y="1644.50" width="28.50" height="79.53" fill="#000000" stroke="#000000" stroke-opacity="0.8" stroke-width="0.8"/>
<rect x="385.65" y="1852.09" width="28.50" height="29.11" fill="#ED7D31" stroke="#843C0C" stroke-opacity="0.8" stroke-width="0.8"/>
<rect x="385.65" y="1827.47" width="28.50" height="24.62" fill="#A5A5A5" stroke="#525252" stroke-opacity="0.8" stroke-width="0.8"/>
<rect x="385.65" y="1804.27" width="28.50" height="23.20" fill="#FFC000" stroke="#7F6000" stroke-opacity="0.8" stroke-width="0.8"/>
<rect x="385.65" y="1785.34" width="28.50" height="18.94" fill="#5B9BD5" stroke="#1F4E79" stroke-opacity="0.8" stroke-width="0.8"/>
<rect x="385.65" y="1771.84" width="28.50" height="13.49" fill="#70AD47" stroke="#385723" stroke-opacity="0.8" stroke-width="0.8"/>
<rect x="385.65" y="1644.50" width="28.50" height="127.34" fill="#000000" stroke="#000000" stroke-opacity="0.8" stroke-width="0.8"/>
<rect x="458.55" y="1880.49" width="28.50" height="0.71" fill="#FFE699" stroke="#8c7f58" stroke-opacity="0.8" stroke-width="0.8"/>
<rect x="458.55" y="1867.00" width="28.50" height="13.49" fill="#ED7D31" stroke="#843C0C" stroke-opacity="0.8" stroke-width="0.8"/>
<rect x="458.55" y="1817.29" width="28.50" height="49.71" fill="#A5A5A5" stroke="#525252" stroke-opacity="0.8" stroke-width="0.8"/>
<rect x="458.55" y="1788.41" width="28.50" height="28.88" fill="#FFC000" stroke="#7F6000" stroke-opacity="0.8" stroke-width="0.8"/>
<rect x="458.55" y="1774.92" width="28.50" height="13.49" fill="#5B9BD5" stroke="#1F4E79" stroke-opacity="0.8" stroke-width="0.8"/>
<rect x="458.55" y="1644.50" width="28.50" height="130.42" fill="#000000" stroke="#000000" stroke-opacity="0.8" stroke-width="0.8"/>
<line x1="73.0" y1="1881.4" x2="509.0" y2="1881.4" stroke="#8c8c8c" stroke-width="1"/>
<text x="12.20" y="1649.20" font-size="19.0">100%</text>
<text x="22.70" y="1707.00" font-size="19.0">75%</text>
<text x="22.70" y="1766.90" font-size="19.0">50%</text>
<text x="22.70" y="1826.10" font-size="19.0">25%</text>
<text x="33.45" y="1885.40" font-size="19.0">0%</text>
<text x="85.10" y="1907.60" font-size="22.4" textLength="38.89" lengthAdjust="spacing">2 m</text>
<text x="151.90" y="1907.60" font-size="22.4" textLength="56.45" lengthAdjust="spacing">4.5 m</text>
<text x="233.30" y="1907.20" font-size="22.4" textLength="37.99" lengthAdjust="spacing">7 m</text>
<text x="310.80" y="1907.60" font-size="22.4" textLength="38.89" lengthAdjust="spacing">2 m</text>
<text x="377.20" y="1907.60" font-size="22.4" textLength="56.75" lengthAdjust="spacing">4.5 m</text>
<text x="458.90" y="1907.20" font-size="22.4" textLength="38.29" lengthAdjust="spacing">7 m</text>
<line x1="77.3" y1="1916.5" x2="276.6" y2="1916.5" stroke="#000" stroke-width="1"/>
<line x1="300.3" y1="1916.5" x2="499.7" y2="1916.5" stroke="#000" stroke-width="1"/>
<text x="110.30" y="1953.85" font-size="30.0" textLength="130.78" lengthAdjust="spacing">Lava flows</text>
<text x="320.50" y="1953.85" font-size="30.0" textLength="157.09" lengthAdjust="spacing">Control zone</text>
<rect x="536.5" y="1639.55" width="9.6" height="9.4" fill="#000000" stroke="#000000" stroke-width="1"/>
<text x="549.80" y="1649.95" font-size="19.9" textLength="136.31" lengthAdjust="spacing">Further species</text>
<rect x="536.5" y="1686.18" width="9.6" height="9.4" fill="#70AD47" stroke="#385723" stroke-width="1"/>
<text x="549.55" y="1696.58" font-size="19.9" font-style="italic" textLength="141.81" lengthAdjust="spacing">Taonia atomaria</text>
<rect x="536.5" y="1732.81" width="9.6" height="9.4" fill="#5B9BD5" stroke="#1F4E79" stroke-width="1"/>
<text x="550.30" y="1743.21" font-size="19.9" font-style="italic" textLength="193.72" lengthAdjust="spacing">Cotoniella filamentosa</text>
<rect x="536.5" y="1779.44" width="9.6" height="9.4" fill="#FFC000" stroke="#7F6000" stroke-width="1"/>
<text x="550.30" y="1789.84" font-size="19.9" font-style="italic" textLength="231.85" lengthAdjust="spacing">Canistrocarpus cervicornis</text>
<rect x="536.5" y="1826.07" width="9.6" height="9.4" fill="#A5A5A5" stroke="#525252" stroke-width="1"/>
<text x="550.80" y="1836.47" font-size="19.9" font-style="italic" textLength="215.80" lengthAdjust="spacing">Lophocladia trichoclados</text>
<rect x="536.5" y="1872.70" width="9.6" height="9.4" fill="#ED7D31" stroke="#843C0C" stroke-width="1"/>
<text x="550.30" y="1883.10" font-size="19.9" textLength="210.03" lengthAdjust="spacing">Crustose coralline algae</text>
<rect x="536.5" y="1919.33" width="9.6" height="9.4" fill="#FFE699" stroke="#8c7f58" stroke-width="1"/>
<text x="550.55" y="1929.73" font-size="19.9" textLength="210.44" lengthAdjust="spacing">ectocarpaleans /diatoms</text>
</svg>
</body></html>
